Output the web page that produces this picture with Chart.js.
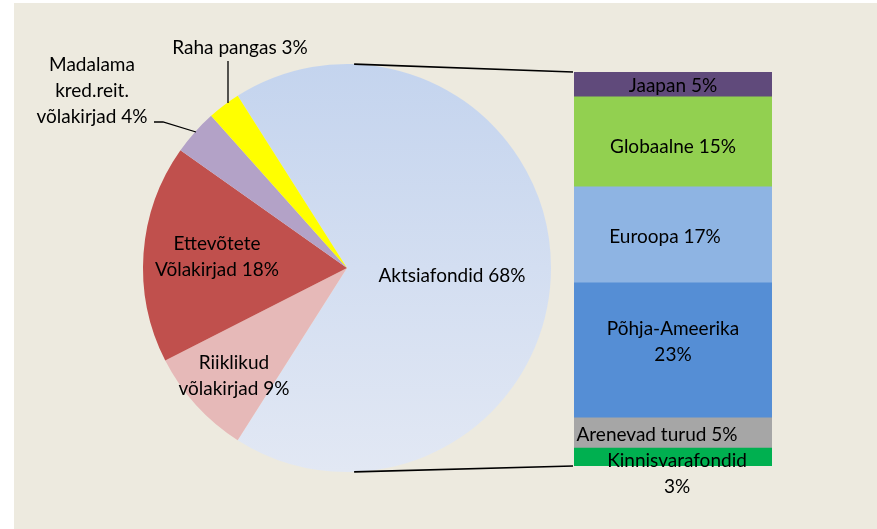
<!DOCTYPE html>
<html>
<head>
<meta charset="utf-8">
<script src="https://cdn.jsdelivr.net/npm/chart.js@4"></script>
<style>
  body { margin: 0; background: #fff; }
  #bg { position: absolute; left: 14px; top: 3px; width: 863px; height: 526px; background: #EDEADF; }
  canvas { position: absolute; left: 0; top: 0; }
</style>
</head>
<body>
<div id="bg"></div>
<canvas id="pie" width="877" height="529"></canvas>
<canvas id="bar" width="877" height="529"></canvas>
<script>
// pie slices, clockwise from the top edge of Aktsiafondid
const pieLabels = ["Aktsiafondid", "Riiklikud võlakirjad", "Ettevõtete Võlakirjad", "Madalama kred.reit. võlakirjad", "Raha pangas"];
const pieValues = [68, 8.5, 17.3, 3.6, 2.6];
const pieText = [["Aktsiafondid 68%"], ["Riiklikud", "võlakirjad 9%"], ["Ettevõtete", "Võlakirjad 18%"], ["Madalama", "kred.reit.", "võlakirjad 4%"], ["Raha pangas 3%"]];
const pieColors = [null, "#E6B9B8", "#C0504D", "#B3A2C7", "#FFFF00"];

// breakdown of Aktsiafondid, bottom to top
const barLabels = ["Kinnisvarafondid", "Arenevad turud", "Põhja-Ameerika", "Euroopa", "Globaalne", "Jaapan"];
const barValues = [3.1, 5.2, 23.3, 16.6, 15.5, 4.3];
const barText = [["Kinnisvarafondid", "3%"], ["Arenevad turud 5%"], ["Põhja-Ameerika", "23%"], ["Euroopa 17%"], ["Globaalne 15%"], ["Jaapan 5%"]];
const barColors = ["#00B050", "#A6A6A6", "#558ED5", "#8EB4E3", "#92D050", "#604A7B"];

const FONT = "19px Lato";
const LINE_H = 26;

// label anchor points for the pie (centre of the text block)
const pieLabelPos = [[452, 276], [234, 376], [217, 257], [92, 91], [240, 48]];
// offsets of bar labels from the segment middle
const barLabelOff = [[4, 17], [-16, 2], [0, -9], [-8, 2], [0, 5], [0, 1]];

function drawLines(ctx, lines, x, y) {
  ctx.save();
  ctx.font = FONT;
  ctx.fillStyle = "#000";
  ctx.textAlign = "center";
  ctx.textBaseline = "middle";
  const y0 = y - (lines.length - 1) * LINE_H / 2;
  lines.forEach((t, i) => ctx.fillText(t, x, y0 + i * LINE_H));
  ctx.restore();
}

const pieLabelPlugin = {
  id: "pieLabels",
  afterDraw(chart) {
    const ctx = chart.ctx;
    pieText.forEach((lines, i) => drawLines(ctx, lines, pieLabelPos[i][0], pieLabelPos[i][1]));
    // leader lines
    ctx.save();
    ctx.strokeStyle = "#000";
    ctx.lineWidth = 1.3;
    ctx.beginPath();
    ctx.moveTo(228, 61); ctx.lineTo(228, 103);
    ctx.moveTo(154, 122); ctx.lineTo(163, 122); ctx.lineTo(196, 132);
    ctx.stroke();
    ctx.restore();
  }
};

const pieChart = new Chart(document.getElementById("pie"), {
  type: "pie",
  data: {
    labels: pieLabels,
    datasets: [{
      data: pieValues,
      borderWidth: 0,
      backgroundColor: (c) => {
        if (c.dataIndex !== 0) return pieColors[c.dataIndex];
        const area = c.chart.chartArea;
        if (!area) return "#D2DDF0";
        const g = c.chart.ctx.createLinearGradient(0, area.top, 0, area.bottom);
        g.addColorStop(0, "#C4D4EE");
        g.addColorStop(1, "#E2E8F4");
        return g;
      }
    }]
  },
  options: {
    responsive: false,
    devicePixelRatio: 1,
    animation: false,
    rotation: -32.4,
    layout: { padding: { left: 143, right: 326, top: 64, bottom: 57 } },
    plugins: { legend: { display: false }, tooltip: { enabled: false } }
  },
  plugins: [pieLabelPlugin]
});

const barLabelPlugin = {
  id: "barLabels",
  afterDraw(chart) {
    const ctx = chart.ctx;
    const area = chart.chartArea;
    // connector lines from the pie to the bar
    const arc = pieChart.getDatasetMeta(0).data[0];
    const r = arc.outerRadius;
    const a = 88 * Math.PI / 180;
    ctx.save();
    ctx.strokeStyle = "#000";
    ctx.lineWidth = 1.6;
    ctx.beginPath();
    ctx.moveTo(arc.x + r * Math.cos(-a), arc.y + r * Math.sin(-a));
    ctx.lineTo(area.left - 1, area.top);
    ctx.moveTo(arc.x + r * Math.cos(a), arc.y + r * Math.sin(a));
    ctx.lineTo(area.left - 1, area.bottom);
    ctx.stroke();
    ctx.restore();
    chart.data.datasets.forEach((ds, i) => {
      const el = chart.getDatasetMeta(i).data[0];
      const mid = (el.y + el.base) / 2;
      drawLines(ctx, barText[i], el.x + barLabelOff[i][0], mid + barLabelOff[i][1]);
    });
  }
};

new Chart(document.getElementById("bar"), {
  type: "bar",
  data: {
    labels: [""],
    datasets: barLabels.map((l, i) => ({
      label: l,
      data: [barValues[i]],
      backgroundColor: barColors[i],
      borderWidth: 0,
      barPercentage: 1,
      categoryPercentage: 1
    }))
  },
  options: {
    responsive: false,
    devicePixelRatio: 1,
    animation: false,
    layout: { padding: { left: 574, right: 105, top: 72, bottom: 63 } },
    scales: {
      x: { stacked: true, display: false },
      y: { stacked: true, display: false, min: 0, max: barValues.reduce((a, b) => a + b, 0) }
    },
    plugins: { legend: { display: false }, tooltip: { enabled: false } }
  },
  plugins: [barLabelPlugin]
});
</script>
</body>
</html>
